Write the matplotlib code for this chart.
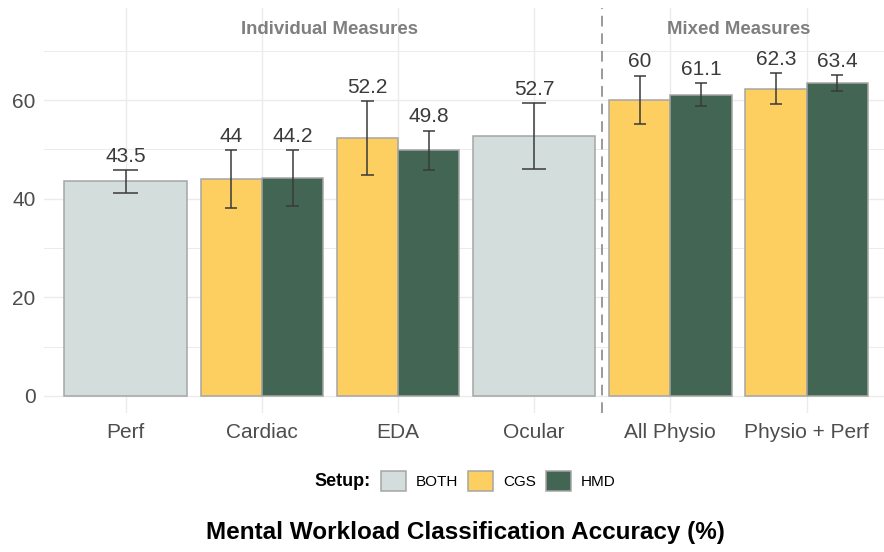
import numpy as np
import matplotlib
matplotlib.use("Agg")
import matplotlib.pyplot as plt
from matplotlib.patches import Patch

plt.rcParams['font.family'] = ['Liberation Sans', 'DejaVu Sans']

# ---- data -------------------------------------------------------------
categories = ['Perf', 'Cardiac', 'EDA', 'Ocular', 'All Physio', 'Physio + Perf']
setups = ['BOTH', 'CGS', 'HMD']

both_acc = [43.5, np.nan, np.nan, 52.7, np.nan, np.nan]
cgs_acc = [np.nan, 44.0, 52.2, np.nan, 60.0, 62.3]
hmd_acc = [np.nan, 44.2, 49.8, np.nan, 61.1, 63.4]

both_err = [2.3, np.nan, np.nan, 6.6, np.nan, np.nan]
cgs_err = [np.nan, 5.85, 7.5, np.nan, 4.95, 3.2]
hmd_err = [np.nan, 5.6, 3.95, np.nan, 2.3, 1.6]

group_names = ['Individual Measures', 'Mixed Measures']
group_members = [[0, 1, 2, 3], [4, 5]]

colors = {'BOTH': '#D3DDDB', 'CGS': '#FDCF60', 'HMD': '#436553'}
edge = '#A6A6A6'
ink = '#3A3A3A'

acc = {'BOTH': both_acc, 'CGS': cgs_acc, 'HMD': hmd_acc}
err = {'BOTH': both_err, 'CGS': cgs_err, 'HMD': hmd_err}

# ---- figure -------------------------------------------------------------
fig = plt.figure(figsize=(8.84, 5.52), dpi=100)
ax = fig.add_axes([44 / 884, 139 / 552, 840 / 884, 405 / 552])

ax.set_xlim(-0.6, 5.569)
ax.set_ylim(-3.45, 78.65)

# grid
ax.set_yticks([0, 20, 40, 60])
ax.set_yticks([10, 30, 50, 70], minor=True)
ax.set_xticks(range(len(categories)))
ax.set_xticklabels(categories)
ax.grid(True, which='major', color='#EBEBEB', lw=1.0, zorder=0)
ax.grid(True, which='minor', axis='y', color='#EBEBEB', lw=0.7, zorder=0)
ax.set_axisbelow(True)
for s in ax.spines.values():
    s.set_visible(False)
ax.tick_params(axis='both', which='both', length=0, labelsize=15,
               labelcolor='#4D4D4D')
ax.tick_params(axis='x', pad=7)
ax.tick_params(axis='y', pad=6)

total_w = 0.9
for i, cat in enumerate(categories):
    present = [s for s in setups if not np.isnan(acc[s][i])]
    n = len(present)
    w = total_w / n
    for k, s in enumerate(present):
        xc = i - total_w / 2 + w * (k + 0.5)
        v = acc[s][i]
        e = err[s][i]
        ax.bar(xc, v, width=w, color=colors[s], edgecolor=edge,
               linewidth=1.1, zorder=2)
        cap = w * 0.2
        ax.vlines(xc, v - e, v + e, color=ink, lw=1.1, zorder=3)
        ax.hlines([v - e, v + e], xc - cap / 2, xc + cap / 2, color=ink,
                  lw=1.1, zorder=3)
        label = f'{v:g}'
        ax.annotate(label, (xc, v + e), xytext=(0, 6),
                    textcoords='offset points', ha='center', va='baseline',
                    fontsize=15, color=ink, zorder=4)

# separator between measure groups
ax.axvline(3.5, color='#7F7F7F', lw=1.1, linestyle=(0, (7, 4.5)), zorder=3)

for name, members in zip(group_names, group_members):
    ax.text(np.mean(members), 73.4, name, ha='center', va='baseline',
            fontsize=13.4, fontweight='bold', color='#7F7F7F')

# legend
handles = [Patch(facecolor=colors[s], edgecolor=edge, linewidth=1.1,
                 label=s) for s in setups]
fig.legend(handles=handles, loc='center left',
           bbox_to_anchor=(381 / 884, 1 - 481 / 552), ncol=3, frameon=False,
           fontsize=11, handlelength=1.63, handleheight=1.57,
           handletextpad=0.65, columnspacing=0.65, borderpad=0,
           borderaxespad=0)
fig.text(371 / 884, 1 - 481 / 552, 'Setup:', ha='right', va='center',
         fontsize=13, fontweight='bold', color='black')

fig.text(465 / 884, 1 - 533 / 552,
         'Mental Workload Classification Accuracy (%)', ha='center',
         va='center', fontsize=17.5, fontweight='bold', color='black')

fig.savefig('out.png', dpi=100, facecolor='white')
